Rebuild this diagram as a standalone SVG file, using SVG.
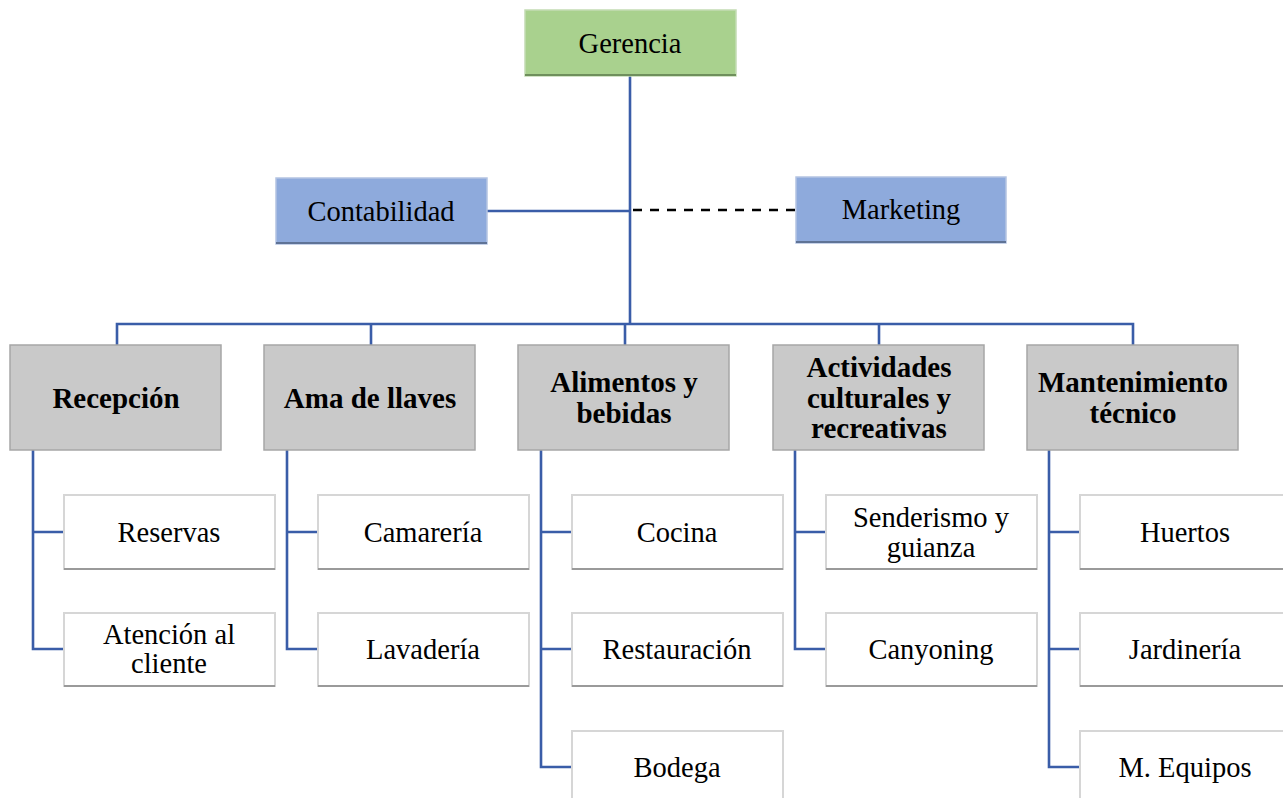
<svg xmlns="http://www.w3.org/2000/svg" width="1283" height="798" viewBox="0 0 1283 798">
  <style>
    .lbl { font-family: "Liberation Serif", "Times New Roman", serif; font-size: 28.5px; fill: #000; text-anchor: middle; dominant-baseline: central; }
    .bold { font-weight: bold; font-size: 29px; }
    .link { fill: none; stroke: #3a5da8; stroke-width: 2.6; }
    .dash { fill: none; stroke: #000; stroke-width: 2.4; stroke-dasharray: 9 8; }
    .green { fill: #a9d18e; stroke: #c4dcb4; stroke-width: 1.5; }
    .blue { fill: #8eaadc; stroke: #b4c4e2; stroke-width: 1.5; }
    .grey { fill: #c9c9c9; stroke: #a6a6a6; stroke-width: 1.5; }
    .white { fill: #fff; stroke: #d6d6d6; stroke-width: 2; }
    .shadeG { stroke: #6f8f5c; stroke-width: 2; }
    .shadeB { stroke: #5f7396; stroke-width: 2; }
    .shadeW { stroke: #9a9a9a; stroke-width: 2; }
  </style>

  <rect width="1283" height="798" fill="#fff"/>

  <!-- connectors -->
  <g id="connectors">
    <!-- trunk from Gerencia to the department bar -->
    <path class="link" d="M630 76 V324"/>
    <path class="link" d="M487 211 H630"/>
    <path class="dash" d="M633 210 H796"/>
    <path class="link" d="M117 345 V324 H1133 V345"/>
    <path class="link" d="M371 324 V345"/>
    <path class="link" d="M625 324 V345"/>
    <path class="link" d="M879 324 V345"/>
    <!-- department to sub-units -->
    <path class="link" d="M33 450 V649 H64 M33 532 H64"/>
    <path class="link" d="M287 450 V649 H318 M287 532 H318"/>
    <path class="link" d="M541 450 V767 H572 M541 532 H572 M541 649 H572"/>
    <path class="link" d="M795 450 V649 H826 M795 532 H826"/>
    <path class="link" d="M1049 450 V767 H1080 M1049 532 H1080 M1049 649 H1080"/>
  </g>

  <!-- top management -->
  <g id="gerencia">
    <rect class="green" x="525" y="10" width="211" height="66"/>
    <line class="shadeG" x1="525" y1="75" x2="736" y2="75"/>
    <text class="lbl" x="630" y="43">Gerencia</text>
  </g>

  <g id="contabilidad">
    <rect class="blue" x="276" y="178" width="211" height="66"/>
    <line class="shadeB" x1="276" y1="243" x2="487" y2="243"/>
    <text class="lbl" x="381" y="211">Contabilidad</text>
  </g>

  <g id="marketing">
    <rect class="blue" x="796" y="177" width="210" height="66"/>
    <line class="shadeB" x1="796" y1="242" x2="1006" y2="242"/>
    <text class="lbl" x="901" y="209">Marketing</text>
  </g>

  <!-- departments -->
  <g id="recepcion">
    <rect class="grey" x="10" y="345" width="211" height="105"/>
    <text class="lbl bold" x="116" y="398">Recepción</text>
  </g>

  <g id="ama-de-llaves">
    <rect class="grey" x="264" y="345" width="211" height="105"/>
    <text class="lbl bold" x="370" y="398">Ama de llaves</text>
  </g>

  <g id="alimentos">
    <rect class="grey" x="518" y="345" width="211" height="105"/>
    <text class="lbl bold" x="624" y="382">Alimentos y</text>
    <text class="lbl bold" x="624" y="413">bebidas</text>
  </g>

  <g id="actividades">
    <rect class="grey" x="773" y="345" width="211" height="105"/>
    <text class="lbl bold" x="879" y="367">Actividades</text>
    <text class="lbl bold" x="879" y="398">culturales y</text>
    <text class="lbl bold" x="879" y="428">recreativas</text>
  </g>

  <g id="mantenimiento">
    <rect class="grey" x="1027" y="345" width="211" height="105"/>
    <text class="lbl bold" x="1133" y="382">Mantenimiento</text>
    <text class="lbl bold" x="1133" y="413">técnico</text>
  </g>

  <!-- sub-units: Recepción -->
  <g id="reservas">
    <rect class="white" x="64" y="495" width="211" height="74"/>
    <line class="shadeW" x1="64" y1="569" x2="275" y2="569"/>
    <text class="lbl" x="169" y="532">Reservas</text>
  </g>
  <g id="atencion">
    <rect class="white" x="64" y="613" width="211" height="73"/>
    <line class="shadeW" x1="64" y1="686" x2="275" y2="686"/>
    <text class="lbl" x="169" y="634">Atención al</text>
    <text class="lbl" x="169" y="663">cliente</text>
  </g>

  <!-- sub-units: Ama de llaves -->
  <g id="camareria">
    <rect class="white" x="318" y="495" width="211" height="74"/>
    <line class="shadeW" x1="318" y1="569" x2="529" y2="569"/>
    <text class="lbl" x="423" y="532">Camarería</text>
  </g>
  <g id="lavaderia">
    <rect class="white" x="318" y="613" width="211" height="73"/>
    <line class="shadeW" x1="318" y1="686" x2="529" y2="686"/>
    <text class="lbl" x="423" y="649">Lavadería</text>
  </g>

  <!-- sub-units: Alimentos y bebidas -->
  <g id="cocina">
    <rect class="white" x="572" y="495" width="211" height="74"/>
    <line class="shadeW" x1="572" y1="569" x2="783" y2="569"/>
    <text class="lbl" x="677" y="532">Cocina</text>
  </g>
  <g id="restauracion">
    <rect class="white" x="572" y="613" width="211" height="73"/>
    <line class="shadeW" x1="572" y1="686" x2="783" y2="686"/>
    <text class="lbl" x="677" y="649">Restauración</text>
  </g>
  <g id="bodega">
    <rect class="white" x="572" y="731" width="211" height="80"/>
    <text class="lbl" x="677" y="767">Bodega</text>
  </g>

  <!-- sub-units: Actividades -->
  <g id="senderismo">
    <rect class="white" x="826" y="495" width="211" height="74"/>
    <line class="shadeW" x1="826" y1="569" x2="1037" y2="569"/>
    <text class="lbl" x="931" y="517">Senderismo y</text>
    <text class="lbl" x="931" y="547">guianza</text>
  </g>
  <g id="canyoning">
    <rect class="white" x="826" y="613" width="211" height="73"/>
    <line class="shadeW" x1="826" y1="686" x2="1037" y2="686"/>
    <text class="lbl" x="931" y="649">Canyoning</text>
  </g>

  <!-- sub-units: Mantenimiento -->
  <g id="huertos">
    <rect class="white" x="1080" y="495" width="211" height="74"/>
    <line class="shadeW" x1="1080" y1="569" x2="1291" y2="569"/>
    <text class="lbl" x="1185" y="532">Huertos</text>
  </g>
  <g id="jardineria">
    <rect class="white" x="1080" y="613" width="211" height="73"/>
    <line class="shadeW" x1="1080" y1="686" x2="1291" y2="686"/>
    <text class="lbl" x="1185" y="649">Jardinería</text>
  </g>
  <g id="m-equipos">
    <rect class="white" x="1080" y="731" width="211" height="80"/>
    <text class="lbl" x="1185" y="767">M. Equipos</text>
  </g>
</svg>
